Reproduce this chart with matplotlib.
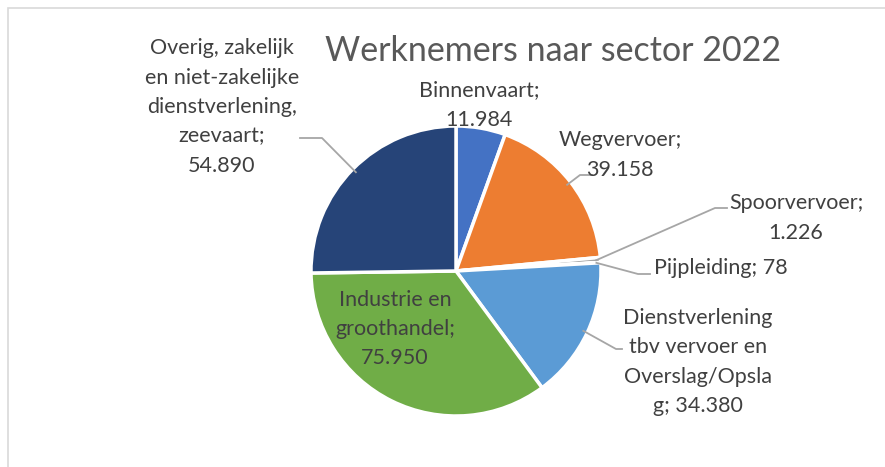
import numpy as np
import matplotlib.pyplot as plt
from matplotlib.patches import Rectangle

plt.rcParams['font.family'] = ['Lato', 'DejaVu Sans']

# data
sectors = ['Binnenvaart', 'Wegvervoer', 'Spoorvervoer', 'Pijpleiding',
           'Dienstverlening tbv vervoer en Overslag/Opslag',
           'Industrie en groothandel',
           'Overig, zakelijk en niet-zakelijke dienstverlening, zeevaart']
werknemers = [11984, 39158, 1226, 78, 34380, 75950, 54890]
labels = ['Binnenvaart;\n11.984', 'Wegvervoer;\n39.158', 'Spoorvervoer;\n1.226',
          'Pijpleiding; 78', 'Dienstverlening\ntbv vervoer en\nOverslag/Opsla\ng; 34.380',
          'Industrie en\ngroothandel;\n75.950',
          'Overig, zakelijk\nen niet-zakelijke\ndienstverlening,\nzeevaart;\n54.890']
colors = ['#4472C4', '#ED7D31', '#A5A5A5', '#FFC000', '#5B9BD5', '#70AD47', '#264478']

W, H = 885, 467
fig = plt.figure(figsize=(W / 100, H / 100), dpi=100)
ax = fig.add_axes([0, 0, 1, 1])

def py(y):
    # pixel y (from top) -> axis y
    return H - y

cx, cy, R = 456, py(271), 145
ax.pie(werknemers, colors=colors, startangle=90, counterclock=False,
       center=(cx, cy), radius=R, frame=True,
       wedgeprops=dict(edgecolor='white', linewidth=2.5))
ax.set_xlim(0, W)
ax.set_ylim(0, H)
ax.set_aspect('equal')
ax.axis('off')

# chart frame
ax.add_patch(Rectangle((8, -10), W, py(8) + 10, fill=False, edgecolor='#D9D9D9', lw=1.2))

ax.text(553, py(51), 'Werknemers naar sector 2022', ha='center', va='center',
        fontsize=24.5, color='#595959')

txt = '#404040'
fs = 15.5
# label positions (pixels), leader elbow and end (None = no leader)
pos = [(479, 105), (620, 155), (796, 218), (721, 268), (698, 362), (395, 329), (222, 107)]
elbow = [None, (580, 175), (715, 208), (638, 274), (616, 349), None, (322, 138)]
end = [None, (592, 175), (727, 208), (650, 274), (622, 349), None, (300, 138)]

total = sum(werknemers)
cum = np.cumsum([0] + werknemers)
for i, lab in enumerate(labels):
    x, y = pos[i]
    ax.text(x, py(y), lab, ha='center', va='center', fontsize=fs, color=txt,
            linespacing=1.58)
    if elbow[i] is not None:
        mid = (cum[i] + cum[i + 1]) / 2 / total * 2 * np.pi
        ax_ = cx + 0.97 * R * np.sin(mid)
        ay_ = cy + 0.97 * R * np.cos(mid)
        ex, ey = elbow[i]
        fx, fy = end[i]
        ax.plot([ax_, ex, fx], [ay_, py(ey), py(fy)], color='#A6A6A6', lw=1.3)

fig.savefig('out.png', dpi=100)
